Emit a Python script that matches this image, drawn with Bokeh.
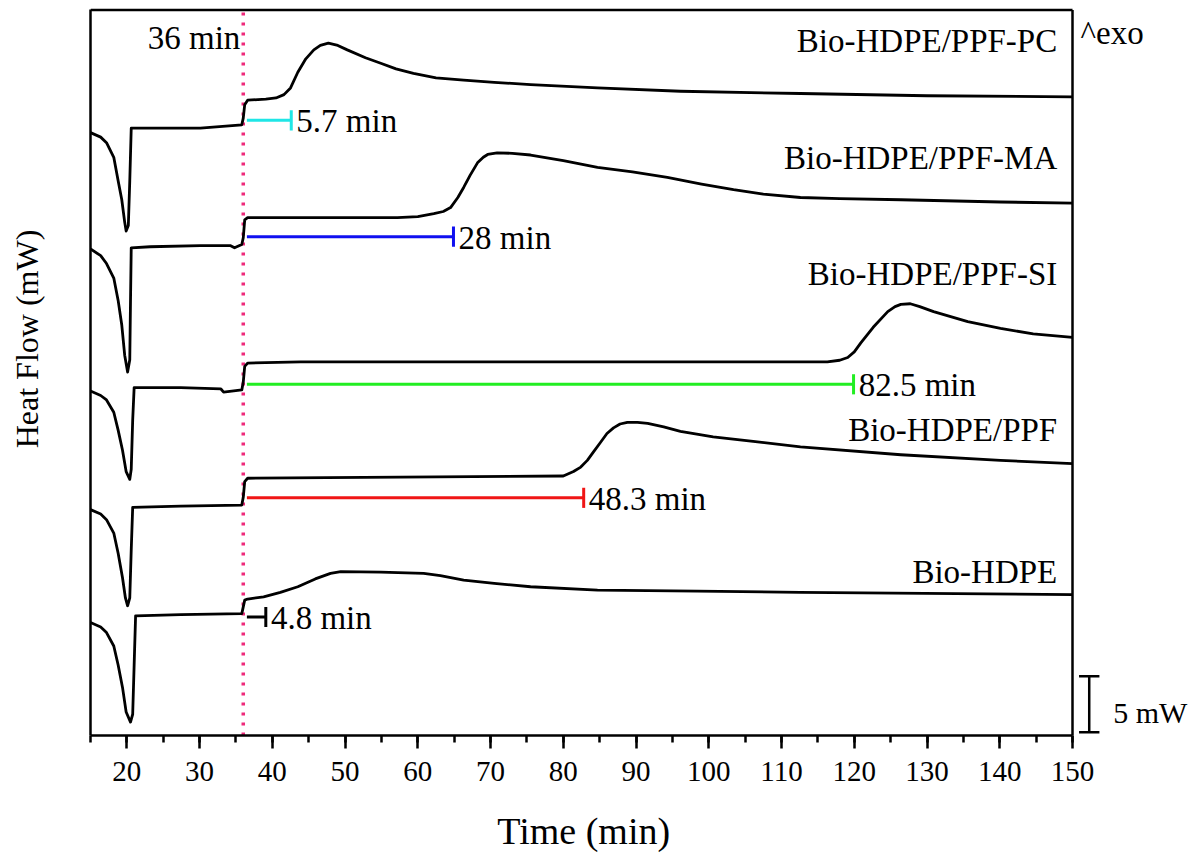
from bokeh.plotting import figure
from bokeh.models import Range1d, SingleIntervalTicker, FixedTicker
from bokeh.core.properties import value
from bokeh.embed import file_html
from bokeh.resources import INLINE

FONT = "Liberation Serif"
NBSP = "\u00a0"

# ---- data (time in min, heat flow in mW with vertical offsets) ----
t_pc = [15.0, 16.4, 17.2, 18.2, 18.8, 19.3, 19.7, 19.9, 20.2, 20.4, 20.6, 23.2, 30.1, 35.8, 36.0, 36.2, 36.6,
        39.1, 40.5, 41.6, 42.5, 43.5, 44.6, 45.7, 46.6, 47.7, 49.0, 50.3, 52.8, 54.9, 57.0, 59.4, 62.5, 66.3, 70.5,
        75.5, 84.7, 96.1, 112.6, 130.0, 150.0]
hf_pc = [53.9, 53.5, 53.0, 51.7, 49.6, 47.9, 45.9, 45.1, 45.6, 49.6, 54.3, 54.3, 54.3, 54.6, 55.2, 56.4, 56.8,
         56.9, 57.0, 57.3, 57.9, 59.3, 60.5, 61.3, 61.7, 61.9, 61.7, 61.3, 60.6, 60.1, 59.6, 59.2, 58.8, 58.6, 58.4,
         58.2, 57.9, 57.6, 57.4, 57.2, 57.1]

t_ma = [15.0, 16.4, 17.2, 18.2, 18.8, 19.3, 19.7, 20.1, 20.4, 20.5, 20.6, 23.2, 30.1, 34.2, 34.8, 35.8, 36.0, 36.2, 36.6,
        43.9, 57.2, 60.0, 62.2, 63.5, 64.5, 65.5, 66.3, 67.2, 68.2, 69.0, 69.6, 70.9, 73.0, 75.5, 80.0, 84.7, 89.5,
        94.3, 99.0, 103.4, 107.5, 112.6, 118.0, 126.4, 140.1, 150.0]
hf_ma = [43.5, 42.9, 42.2, 40.9, 38.9, 36.7, 34.0, 32.5, 33.6, 38.9, 43.6, 43.7, 43.8, 43.8, 43.6, 43.9, 44.5, 46.1, 46.3,
         46.3, 46.3, 46.4, 46.65, 46.85, 47.2, 48.1, 49.0, 50.1, 51.2, 51.7, 51.95, 52.1, 52.05, 51.9, 51.4, 50.8, 50.4,
         49.9, 49.3, 48.8, 48.4, 48.1, 48.0, 47.9, 47.7, 47.6]

t_si = [15.0, 16.4, 17.2, 18.2, 18.8, 19.4, 19.9, 20.4, 20.6, 20.8, 21.0, 27.4, 32.9, 33.3, 35.8, 36.0, 36.2, 36.6,
        43.9, 71.4, 98.9, 116.3, 118.0, 119.1, 120.0, 120.9, 122.6, 124.6, 125.6, 126.4, 127.7, 129.0, 130.9, 135.6,
        140.1, 144.6, 150.0]
hf_si = [30.8, 30.4, 30.0, 28.9, 27.3, 25.5, 23.6, 22.9, 23.8, 28.2, 31.1, 31.1, 31.0, 30.7, 30.9, 31.6, 33.0, 33.3,
         33.4, 33.4, 33.4, 33.4, 33.55, 33.8, 34.3, 35.1, 36.5, 37.9, 38.35, 38.55, 38.6, 38.35, 37.9, 37.0,
         36.4, 35.9, 35.6]

t_ppf = [15.0, 16.4, 17.2, 18.2, 18.8, 19.4, 19.8, 20.1, 20.4, 20.6, 20.8, 27.4, 35.8, 36.0, 36.2, 36.6,
         57.6, 80.0, 81.4, 82.4, 83.3, 84.2, 85.1, 86.0, 86.9, 87.8, 88.8, 90.2, 91.6, 93.8, 96.1, 100.6, 106.1,
         112.6, 126.4, 140.1, 150.0]
hf_ppf = [20.2, 19.8, 19.3, 18.1, 16.3, 14.1, 12.3, 11.6, 12.3, 16.6, 20.4, 20.5, 20.6, 21.3, 22.7, 23.0,
          23.1, 23.2, 23.6, 24.0, 24.6, 25.4, 26.2, 27.0, 27.5, 27.85, 28.0, 28.0, 27.9, 27.6, 27.2, 26.7, 26.3,
          25.8, 25.1, 24.6, 24.3]

t_hdpe = [15.0, 16.4, 17.2, 18.2, 18.8, 19.4, 19.9, 20.5, 20.8, 21.0, 21.2, 27.4, 35.8, 36.0, 36.2, 36.6,
          38.8, 41.1, 43.5, 45.9, 48.0, 49.4, 54.9, 60.8, 63.1, 66.3, 70.5, 75.5, 84.7, 98.4, 112.6, 150.0]
hf_hdpe = [10.1, 9.7, 9.2, 8.0, 6.3, 4.3, 2.1, 1.2, 1.9, 6.3, 10.7, 10.8, 10.9, 11.5, 12.1, 12.2,
           12.4, 12.8, 13.3, 14.0, 14.5, 14.65, 14.6, 14.5, 14.3, 13.9, 13.6, 13.3, 13.0, 12.9, 12.8, 12.6]

curve_t = [t_pc, t_ma, t_si, t_ppf, t_hdpe]
curve_hf = [hf_pc, hf_ma, hf_si, hf_ppf, hf_hdpe]
curve_names = ["Bio-HDPE/PPF-PC", "Bio-HDPE/PPF-MA", "Bio-HDPE/PPF-SI", "Bio-HDPE/PPF", "Bio-HDPE"]
name_y = [62.1, 51.6, 41.3, 27.3, 14.6]

# induction-time brackets
isothermal_start = 36.0
ann_start = [36.5, 36.5, 36.5, 36.5, 36.5]
ann_end = [42.6, 64.9, 119.9, 82.8, 39.1]
ann_y = [55.0, 44.6, 31.4, 21.25, 10.6]
ann_text = ["5.7 min", "28 min", "82.5 min", "48.3 min", "4.8 min"]
ann_colors = ["#1FE6E6", "#1010F0", "#22EE22", "#F01515", "#000000"]

x_ticks_interval = 10

# ---- figure ----
px_per_min = 982 / 135.0
x_end = 15 + 1110 / px_per_min
px_per_mw = 11.2
y_top = (736 - 6) / px_per_mw
box_top = (736 - 9.5) / px_per_mw

p = figure(width=1200, height=854, output_backend="svg", toolbar_location=None, title=None,
           x_range=Range1d(15, x_end), y_range=Range1d(0, y_top),
           min_border_left=90, min_border_right=0, min_border_top=6, min_border_bottom=118)
p.outline_line_color = None
p.xgrid.visible = False
p.ygrid.visible = False
p.background_fill_color = "white"
p.border_fill_color = "white"

xa = p.xaxis[0]
xa.ticker = SingleIntervalTicker(interval=x_ticks_interval, num_minor_ticks=2)
xa.bounds = (15, 150)
xa.axis_line_width = 2.5
xa.major_tick_line_width = 2.5
xa.minor_tick_line_width = 2.5
xa.major_tick_out = 13
xa.major_tick_in = 0
xa.minor_tick_out = 7
xa.minor_tick_in = 0
xa.major_label_text_font = FONT
xa.major_label_text_font_size = "29px"
xa.major_label_text_color = "black"
xa.major_label_standoff = 13
# trailing non-breaking spaces shift the centred title left, under the 15-150 box
xa.axis_label = "Time (min)" + NBSP * 13
xa.axis_label_text_font = FONT
xa.axis_label_text_font_size = "38px"
xa.axis_label_text_font_style = "normal"
xa.axis_label_text_color = "black"
xa.axis_label_standoff = 26

ya = p.yaxis[0]
ya.ticker = FixedTicker(ticks=[])
ya.bounds = (0, box_top)
ya.axis_line_width = 2.5
ya.major_tick_out = 0
ya.minor_tick_out = 0
ya.axis_label = NBSP * 8 + "Heat Flow (mW)"
ya.axis_label_text_font = FONT
ya.axis_label_text_font_size = "32px"
ya.axis_label_text_font_style = "normal"
ya.axis_label_text_color = "black"
ya.axis_label_standoff = 46

# top and right frame lines
p.segment(x0=[15, 150], y0=[box_top, 0], x1=[150, 150], y1=[box_top, box_top],
          line_color="black", line_width=2.5)

# isothermal switch marker
p.segment(x0=[isothermal_start], y0=[0], x1=[isothermal_start], y1=[box_top],
          line_color="#EE2A7B", line_width=3.5, line_dash="3 7")

# curves
for t, hf in zip(curve_t, curve_hf):
    p.line(t, hf, line_color="black", line_width=2.8, line_join="round")

# curve labels
p.text(x=[147.9] * len(curve_names), y=name_y, text=curve_names, text_align="right",
       text_baseline="middle", text_font=value(FONT), text_font_size="33px", text_color="black")

# brackets
cap = 0.9
p.segment(x0=ann_start, y0=ann_y, x1=ann_end, y1=ann_y, line_color=ann_colors, line_width=3)
p.segment(x0=ann_end, y0=[y - cap for y in ann_y], x1=ann_end, y1=[y + cap for y in ann_y],
          line_color=ann_colors, line_width=3)
p.text(x=[e + 0.7 for e in ann_end], y=[y - 0.1 for y in ann_y], text=ann_text, text_align="left",
       text_baseline="middle", text_font=value(FONT), text_font_size="33px", text_color="black")

# other texts
p.text(x=[35.6], y=[62.4], text=["36 min"], text_align="right", text_baseline="middle",
       text_font=value(FONT), text_font_size="33px", text_color="black")
p.text(x=[151.1], y=[62.8], text=["^exo"], text_align="left", text_baseline="middle",
       text_font=value(FONT), text_font_size="33px", text_color="black")

# 5 mW scale bar
sb_x, sb_y0, sb_len, sb_cap = 152.3, 0.3, 5.0, 1.4
p.segment(x0=[sb_x, sb_x - sb_cap, sb_x - sb_cap], y0=[sb_y0, sb_y0, sb_y0 + sb_len],
          x1=[sb_x, sb_x + sb_cap, sb_x + sb_cap], y1=[sb_y0 + sb_len, sb_y0, sb_y0 + sb_len],
          line_color="black", line_width=2.5)
p.text(x=[155.6], y=[2.05], text=["5 mW"], text_align="left", text_baseline="middle",
       text_font=value(FONT), text_font_size="30px", text_color="black")

open("out.html", "w").write(file_html(p, INLINE))
